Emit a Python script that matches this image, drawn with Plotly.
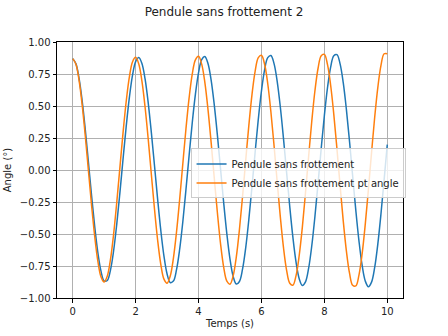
import plotly.graph_objects as go

# time samples (s)
t = [round(0.1 * k, 1) for k in range(101)]

# Pendule sans frottement (blue)
angle_blue = [
    0.870, 0.831, 0.718, 0.541, 0.314, 0.059, -0.202, -0.444, -0.647, -0.792,
    -0.867, -0.863, -0.782, -0.631, -0.423, -0.177, 0.086, 0.340, 0.565, 0.739,
    0.847, 0.879, 0.832, 0.711, 0.525, 0.292, 0.033, -0.229, -0.472, -0.672,
    -0.812, -0.879, -0.868, -0.778, -0.619, -0.404, -0.152, 0.113, 0.369, 0.591,
    0.761, 0.863, 0.887, 0.832, 0.702, 0.509, 0.270, 0.007, -0.258, -0.499,
    -0.696, -0.831, -0.891, -0.871, -0.773, -0.606, -0.384, -0.127, 0.141, 0.397,
    0.617, 0.783, 0.878, 0.895, 0.831, 0.693, 0.492, 0.247, -0.020, -0.286,
    -0.527, -0.720, -0.849, -0.902, -0.874, -0.767, -0.592, -0.363, -0.102, 0.169,
    0.425, 0.644, 0.804, 0.893, 0.901, 0.829, 0.682, 0.474, 0.223, -0.048,
    -0.315, -0.554, -0.744, -0.867, -0.912, -0.876, -0.761, -0.577, -0.342, -0.075,
    0.198,
]

# Pendule sans frottement pt angle (orange)
angle_orange = [
    0.870, 0.828, 0.703, 0.509, 0.264, -0.007, -0.278, -0.521, -0.714, -0.835,
    -0.875, -0.828, -0.699, -0.501, -0.253, 0.021, 0.292, 0.535, 0.725, 0.844,
    0.880, 0.828, 0.694, 0.492, 0.241, -0.035, -0.307, -0.549, -0.737, -0.853,
    -0.884, -0.828, -0.690, -0.483, -0.229, 0.049, 0.322, 0.563, 0.749, 0.861,
    0.888, 0.827, 0.685, 0.474, 0.216, -0.063, -0.336, -0.577, -0.761, -0.869,
    -0.892, -0.827, -0.680, -0.465, -0.204, 0.077, 0.351, 0.591, 0.772, 0.878,
    0.896, 0.826, 0.674, 0.455, 0.191, -0.092, -0.366, -0.605, -0.784, -0.885,
    -0.900, -0.825, -0.668, -0.446, -0.178, 0.107, 0.381, 0.619, 0.795, 0.893,
    0.903, 0.823, 0.662, 0.435, 0.165, -0.121, -0.397, -0.632, -0.806, -0.901,
    -0.906, -0.821, -0.656, -0.425, -0.152, 0.136, 0.412, 0.646, 0.818, 0.908,
    0.909,
]

x_ticks = [0, 2, 4, 6, 8, 10]
x_tick_labels = ["0", "2", "4", "6", "8", "10"]
y_ticks = [1.0, 0.75, 0.5, 0.25, 0.0, -0.25, -0.5, -0.75, -1.0]
y_tick_labels = ["1.00", "0.75", "0.50", "0.25", "0.00", "\u22120.25", "\u22120.50", "\u22120.75", "\u22121.00"]

FONT = "DejaVu Sans"

fig = go.Figure()
fig.add_trace(go.Scatter(
    x=t, y=angle_blue, mode="lines", name="Pendule sans frottement",
    line=dict(color="#1f77b4", width=1.5, shape="spline"),
))
fig.add_trace(go.Scatter(
    x=t, y=angle_orange, mode="lines", name="Pendule sans frottement pt angle",
    line=dict(color="#ff7f0e", width=1.5, shape="spline"),
))

axis_common = dict(
    showgrid=True, gridcolor="#b0b0b0", gridwidth=0.8,
    showline=True, linecolor="black", linewidth=1, mirror=True,
    ticks="outside", ticklen=3.5, tickwidth=0.8, tickcolor="black",
    tickfont=dict(family=FONT, size=10, color="#222222"),
    zeroline=False,
)

fig.update_layout(
    width=448, height=336,
    margin=dict(l=57, r=45, t=42, b=38, autoexpand=False),
    paper_bgcolor="white", plot_bgcolor="white",
    font=dict(family=FONT, size=10, color="#222222"),
    title=dict(text="Pendule sans frottement 2", x=0.5, xref="container", xanchor="center",
               y=1 - 12 / 336, yref="container", yanchor="middle",
               font=dict(family=FONT, size=12, color="#222222")),
    xaxis=dict(range=[-0.5, 10.5], tickvals=x_ticks, ticktext=x_tick_labels,
               title=dict(text="Temps (s)", standoff=4, font=dict(family=FONT, size=10)),
               **axis_common),
    yaxis=dict(range=[-1.0, 1.0], tickvals=y_ticks, ticktext=y_tick_labels,
               title=dict(text="Angle (°)", standoff=6, font=dict(family=FONT, size=10)),
               **axis_common),
    legend=dict(x=0.386, y=0.584, xanchor="left", yanchor="top",
                bgcolor="rgba(255,255,255,0.8)", bordercolor="#cccccc", borderwidth=1,
                font=dict(family=FONT, size=10, color="#222222"),
                tracegroupgap=0, itemwidth=30),
    showlegend=True,
)

fig.write_html("out.html")
